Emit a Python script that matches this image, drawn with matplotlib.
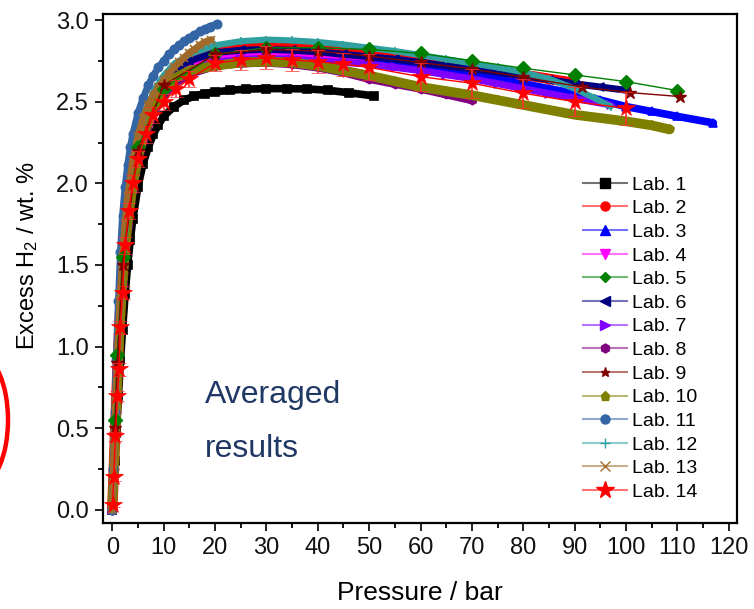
import matplotlib
matplotlib.use("Agg")
import matplotlib.pyplot as plt
from matplotlib.lines import Line2D
from matplotlib.patches import Arc
from matplotlib.legend_handler import HandlerTuple

plt.rcParams['font.family'] = ['Liberation Sans', 'DejaVu Sans']
plt.rcParams['mathtext.fontset'] = 'custom'
plt.rcParams['mathtext.rm'] = 'Liberation Sans'
plt.rcParams['mathtext.default'] = 'regular'

# ---- excess H2 uptake (wt. %) versus pressure (bar) for each laboratory ----
lab1_p = [0, 0.2, 0.5, 0.8, 1.2, 1.6, 2, 2.5, 3, 3.5, 4, 5, 6, 7, 8, 9, 10, 12, 14, 16, 18, 20, 23, 26, 30, 34, 38, 42, 46, 51]
lab1_v = [0.0, 0.12, 0.3, 0.47, 0.7, 0.92, 1.1, 1.32, 1.5, 1.65, 1.78, 1.98, 2.12, 2.22, 2.30, 2.36, 2.41, 2.47, 2.51, 2.535, 2.55, 2.56, 2.57, 2.577, 2.58, 2.58, 2.578, 2.57, 2.555, 2.535]

lab2_p = [0, 0.3, 0.7, 1, 1.5, 2, 3, 4, 5, 6, 8, 10, 12, 15, 18, 20, 25, 30, 35, 40, 45, 50, 55, 60, 65, 70, 75, 80, 85, 90]
lab2_v = [0, 0.25, 0.6, 0.85, 1.2, 1.45, 1.8, 2.03, 2.2, 2.33, 2.5, 2.61, 2.69, 2.76, 2.80, 2.82, 2.84, 2.845, 2.84, 2.83, 2.81, 2.79, 2.77, 2.755, 2.73, 2.71, 2.69, 2.665, 2.64, 2.615]

lab3_p = [0, 0.3, 0.7, 1, 1.5, 2, 3, 4, 5, 6, 8, 10, 12, 15, 20, 25, 30, 35, 40, 45, 50, 55, 60, 65, 70, 75, 80, 85, 90, 95, 100, 105, 110, 117]
lab3_v = [0, 0.25, 0.6, 0.85, 1.2, 1.45, 1.8, 2.03, 2.2, 2.33, 2.5, 2.6, 2.67, 2.73, 2.78, 2.80, 2.805, 2.80, 2.79, 2.78, 2.765, 2.75, 2.73, 2.70, 2.67, 2.64, 2.61, 2.58, 2.55, 2.51, 2.47, 2.44, 2.41, 2.37]

lab4_p = [0, 0.3, 0.7, 1, 1.5, 2, 3, 4, 5, 6, 8, 10, 12, 15, 20, 25, 30, 35, 40, 45, 50]
lab4_v = [0, 0.24, 0.58, 0.82, 1.16, 1.42, 1.78, 2.0, 2.17, 2.3, 2.47, 2.58, 2.65, 2.72, 2.77, 2.79, 2.795, 2.79, 2.78, 2.765, 2.75]

lab5_p = [0.5, 1, 2, 5, 10, 20, 30, 40, 50, 60, 70, 80, 90, 100, 110]
lab5_v = [0.55, 0.95, 1.55, 2.22, 2.58, 2.79, 2.83, 2.83, 2.82, 2.796, 2.751, 2.705, 2.664, 2.623, 2.568]

lab6_p = [0, 0.3, 0.7, 1, 1.5, 2, 3, 4, 5, 6, 8, 10, 12, 15, 20, 25, 30, 35, 40, 45, 50, 55, 60, 65, 70, 75, 80, 85, 90, 95, 100]
lab6_v = [0, 0.26, 0.62, 0.87, 1.22, 1.48, 1.83, 2.06, 2.23, 2.35, 2.52, 2.62, 2.69, 2.75, 2.80, 2.815, 2.82, 2.815, 2.805, 2.79, 2.775, 2.76, 2.74, 2.72, 2.70, 2.68, 2.66, 2.635, 2.61, 2.59, 2.57]

lab7_p = [0, 0.3, 0.7, 1, 1.5, 2, 3, 4, 5, 6, 8, 10, 12, 15, 20, 25, 30, 35, 40, 45, 50, 55, 60, 65, 70, 75, 80, 85, 90, 97]
lab7_v = [0, 0.23, 0.56, 0.8, 1.14, 1.4, 1.76, 1.98, 2.15, 2.28, 2.45, 2.56, 2.63, 2.69, 2.74, 2.76, 2.765, 2.76, 2.75, 2.74, 2.73, 2.71, 2.69, 2.665, 2.64, 2.61, 2.58, 2.55, 2.52, 2.48]

lab8_p = [0, 0.3, 0.7, 1, 1.5, 2, 3, 4, 5, 6, 8, 10, 12, 15, 20, 25, 30, 35, 40, 45, 50, 55, 60, 65, 70]
lab8_v = [0, 0.22, 0.55, 0.78, 1.12, 1.38, 1.74, 1.96, 2.13, 2.26, 2.43, 2.54, 2.61, 2.67, 2.72, 2.735, 2.74, 2.73, 2.71, 2.68, 2.64, 2.61, 2.58, 2.545, 2.51]

lab9_p = [0.5, 1, 2, 5, 10, 20, 30, 40, 50, 60, 70, 80, 91.5, 100.7, 110.6]
lab9_v = [0.5, 0.9, 1.5, 2.2, 2.6, 2.79, 2.82, 2.81, 2.78, 2.74, 2.70, 2.65, 2.59, 2.556, 2.531]

lab10_p = [0, 0.3, 0.7, 1, 1.5, 2, 3, 4, 5, 6, 8, 10, 12, 15, 20, 25, 30, 35, 40, 45, 50, 55, 60, 65, 70, 75, 80, 85, 90, 95, 100, 105, 108.5]
lab10_v = [0, 0.23, 0.57, 0.8, 1.15, 1.41, 1.77, 1.99, 2.16, 2.29, 2.46, 2.57, 2.64, 2.69, 2.72, 2.74, 2.745, 2.74, 2.72, 2.69, 2.66, 2.625, 2.59, 2.565, 2.54, 2.51, 2.48, 2.45, 2.42, 2.40, 2.38, 2.355, 2.33]

lab11_p = [0, 0.2, 0.5, 0.8, 1.2, 1.6, 2, 2.5, 3, 3.5, 4, 5, 6, 7, 8, 9, 10, 11, 12, 13, 14, 15, 16, 17, 18, 19, 20.3]
lab11_v = [0.0, 0.25, 0.6, 0.92, 1.28, 1.58, 1.80, 1.98, 2.11, 2.22, 2.30, 2.43, 2.52, 2.60, 2.66, 2.71, 2.75, 2.79, 2.82, 2.845, 2.87, 2.89, 2.91, 2.93, 2.945, 2.96, 2.975]

lab12_p = [0, 0.3, 0.7, 1, 1.5, 2, 3, 4, 5, 6, 8, 10, 12, 15, 20, 25, 30, 35, 40, 45, 50, 55, 60, 65, 70, 75, 80, 85, 90, 94, 97]
lab12_v = [0, 0.27, 0.64, 0.9, 1.26, 1.52, 1.87, 2.1, 2.27, 2.39, 2.56, 2.66, 2.73, 2.79, 2.845, 2.87, 2.88, 2.875, 2.865, 2.85, 2.83, 2.81, 2.785, 2.76, 2.735, 2.71, 2.68, 2.64, 2.58, 2.52, 2.47]

lab13_p = [0, 0.3, 0.7, 1.1, 1.5, 2, 2.5, 3, 4, 5, 6, 7, 8, 9, 10, 11, 12, 13, 14, 15, 16, 17, 18, 19.3]
lab13_v = [0, 0.3, 0.7, 1.0, 1.28, 1.55, 1.76, 1.92, 2.14, 2.29, 2.40, 2.48, 2.54, 2.59, 2.63, 2.67, 2.71, 2.74, 2.77, 2.80, 2.82, 2.845, 2.865, 2.88]

# averaged results with standard deviation
lab14_p = [0.05, 0.3, 0.6, 1.0, 1.3, 1.6, 2.0, 2.5, 3.2, 4, 5, 6.5, 8, 10, 12.5, 15, 20, 25, 30, 35, 40, 45, 50, 60, 70, 80, 90, 100]
lab14_v = [0.03, 0.2, 0.45, 0.7, 0.86, 1.12, 1.33, 1.62, 1.83, 2.0, 2.15, 2.3, 2.42, 2.5, 2.58, 2.64, 2.735, 2.755, 2.77, 2.755, 2.745, 2.73, 2.71, 2.653, 2.613, 2.552, 2.50, 2.46]
lab14_err = [0.01, 0.02, 0.03, 0.03, 0.04, 0.04, 0.04, 0.05, 0.05, 0.05, 0.05, 0.05, 0.05, 0.05, 0.05, 0.05, 0.05, 0.06, 0.07, 0.07, 0.07, 0.07, 0.08, 0.085, 0.09, 0.09, 0.09, 0.10]

labels = ["Lab. %d" % i for i in range(1, 15)]
colors = ['#000000', '#ff0000', '#0000ff', '#ff00ff', '#008000', '#000080', '#8000ff',
          '#800080', '#800000', '#808000', '#3465a4', '#2f9f9f', '#a06a2a', '#ff0000']
markers = ['s', 'o', '^', 'v', 'D', '<', '>', 'h', '*', 'p', 'o', '+', 'x', '*']

series = [(lab1_p, lab1_v), (lab2_p, lab2_v), (lab3_p, lab3_v), (lab4_p, lab4_v),
          (lab5_p, lab5_v), (lab6_p, lab6_v), (lab7_p, lab7_v), (lab8_p, lab8_v),
          (lab9_p, lab9_v), (lab10_p, lab10_v), (lab11_p, lab11_v), (lab12_p, lab12_v),
          (lab13_p, lab13_v)]
# densely sampled isotherms are drawn as a marker band, sparse ones as markers on a thin line
band_width = [5.5, 7.5, 5.5, 5.0, None, 5.0, 5.0, 6.0, None, 7.0, 5.0, 4.5, 5.0]

fig = plt.figure(figsize=(7.54, 6.09), dpi=100)
ax = fig.add_axes([103 / 754, 1 - 523 / 609, (737 - 103) / 754, (523 - 14) / 609])

for i, (p, v) in enumerate(series):
    c, m, bw = colors[i], markers[i], band_width[i]
    if bw is not None:
        ax.plot(p, v, color=c, lw=bw, solid_capstyle='round', solid_joinstyle='round', zorder=2 + i * 0.1)
        ax.plot(p, v, ls='none', marker=m, ms=6, mew=1.2, color=c, zorder=2 + i * 0.1)
    else:
        ax.plot(p, v, color=c, lw=1.0, marker=m, ms=7 if m == 'D' else 9, mew=1, zorder=3 + i * 0.1)

ax.errorbar(lab14_p, lab14_v, yerr=lab14_err, color='#ff0000', lw=1.0, marker='*', ms=13,
            mew=0.5, ecolor='#ff3030', elinewidth=1.2, capsize=5, capthick=1.2, zorder=5)

ax.set_xlim(-1.8, 121.6)
ax.set_ylim(-0.08, 3.037)
ax.set_xticks(range(0, 121, 10))
ax.set_xticks(range(5, 121, 10), minor=True)
ax.set_yticks([0, 0.5, 1.0, 1.5, 2.0, 2.5, 3.0])
ax.set_yticklabels(['0.0', '0.5', '1.0', '1.5', '2.0', '2.5', '3.0'])
ax.set_yticks([0.25, 0.75, 1.25, 1.75, 2.25, 2.75], minor=True)
ax.tick_params(which='major', direction='out', length=6, width=1.3, labelsize=17, colors='#111111', pad=4)
ax.tick_params(which='minor', direction='out', length=3.5, width=1.3)
for s in ax.spines.values():
    s.set_linewidth(1.6)

ax.set_xlabel('Pressure / bar', fontsize=19, labelpad=16)
ax.set_ylabel(r'Excess H$_2$ / wt. %', fontsize=17)
ax.yaxis.set_label_coords((40 - 103) / 634, (523 - 256) / 509)

fig.text(205 / 754, 1 - 403 / 609, 'Averaged', color='#1f3864', fontsize=23, va='baseline', ha='left')
fig.text(205 / 754, 1 - 457 / 609, 'results', color='#1f3864', fontsize=23, va='baseline', ha='left')

handles = []
for i in range(14):
    ln = Line2D([], [], color=colors[i], lw=1.5, alpha=0.55)
    ms = 13 if i == 13 else (5.5 if markers[i] == 'D' else 6.5)
    mk = Line2D([], [], color=colors[i], ls='none', marker=markers[i], ms=ms, mew=1)
    handles.append((ln, mk))
leg = ax.legend(handles, labels, handler_map={tuple: HandlerTuple(ndivide=1)},
                loc='upper left', bbox_to_anchor=(583 / 754, 1 - 176 / 609),
                bbox_transform=fig.transFigure, frameon=False, fontsize=14,
                handlelength=2.27, handletextpad=0.26, labelspacing=0.31,
                borderpad=0, borderaxespad=0)

# hand-drawn highlight at the left edge
fig.patches.append(Arc((-20, 609 - 420), 56, 128, transform=None, color='#ff0000', lw=3.2, figure=fig))

fig.savefig('out.png', dpi=100)
